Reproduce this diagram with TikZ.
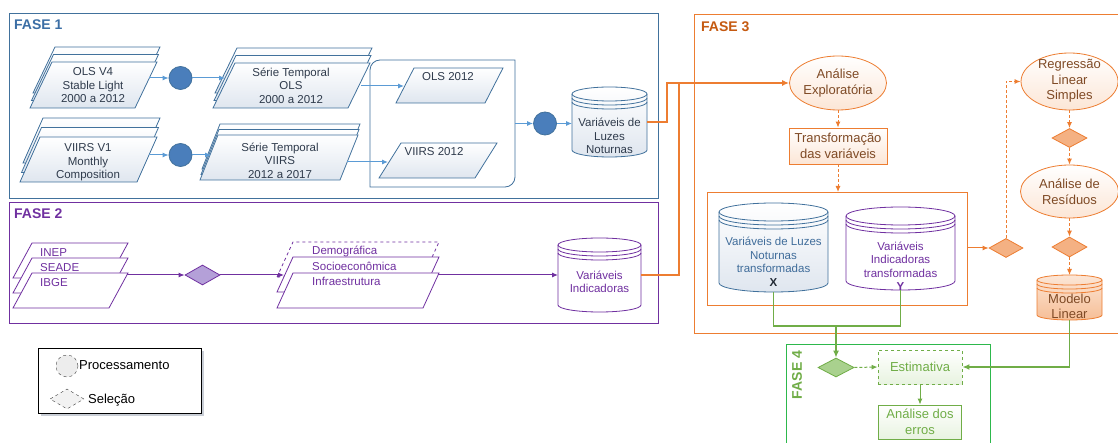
\documentclass[tikz,border=0pt]{standalone}
\usepackage{fontspec}
\setmainfont{Liberation Sans}
\usetikzlibrary{arrows.meta,shapes.geometric}
\definecolor{bl}{HTML}{41719C}
\definecolor{f1c}{HTML}{3B6EA5}
\definecolor{blarrow}{HTML}{5B9BD5}
\definecolor{blfill}{HTML}{4A7EBB}
\definecolor{bltext}{HTML}{2F3B4C}
\definecolor{bldoc}{HTML}{DFE6EF}
\definecolor{bltxt2}{HTML}{3F6C9A}
\definecolor{xdark}{HTML}{222A35}
\definecolor{pu}{HTML}{7030A0}
\definecolor{pufill}{HTML}{B4A0D8}
\definecolor{or}{HTML}{ED7D31}
\definecolor{f3c}{HTML}{C55A11}
\definecolor{ortext}{HTML}{7F4A25}
\definecolor{orlite}{HTML}{FCE6D6}
\definecolor{ordia}{HTML}{F4B183}
\definecolor{ormod}{HTML}{F6BE96}
\definecolor{gr}{HTML}{70AD47}
\definecolor{grbox}{HTML}{2DB84C}
\definecolor{grdia}{HTML}{A9D18E}
\definecolor{grlite}{HTML}{E8F3E0}
\definecolor{shadow}{HTML}{C9CED6}
% parallelogram: style, x bottom-left, y bottom, width, height, slant
\newcommand\pgram[6]{\path[#1] (#2,#3) -- ++(#4,0) -- ++(#6,-#5) -- ++(-#4,0) -- cycle;}
% database cylinder: cx, top, bottom, rx, ry, colour, fill options
\newcommand\dbcyl[7]{%
  \path[draw=#6,line width=0.8pt,#7] (#1-#4,#2+#5) -- (#1-#4,#3-#5)
    arc[start angle=180,end angle=0,x radius=#4,y radius=#5] -- (#1+#4,#2+#5)
    arc[start angle=0,end angle=-180,x radius=#4,y radius=#5] -- cycle;
  \draw[#6,line width=0.8pt] (#1-#4,#2+#5) arc[start angle=180,end angle=0,x radius=#4,y radius=#5];
  \draw[#6,line width=0.8pt] (#1-#4,#2+#5+4) arc[start angle=180,end angle=0,x radius=#4,y radius=#5];
  \draw[#6,line width=0.8pt] (#1-#4,#2+#5+8) arc[start angle=180,end angle=0,x radius=#4,y radius=#5];
}
\tikzset{
  fbox/.style={anchor=north west, inner sep=0, line width=1pt, draw},
  flabel/.style={font=\fontsize{14}{16}\selectfont\bfseries, anchor=west, inner sep=0},
  tA/.style={font=\fontsize{11.5}{13.5}\selectfont, align=center, inner sep=0},
  tB/.style={font=\fontsize{13}{15.5}\selectfont, align=center, inner sep=0},
  pdoc/.style={draw=bl, line width=0.8pt, top color=white, bottom color=bldoc},
  ppur/.style={draw=pu, line width=0.8pt, fill=white},
  hit/.style={inner sep=0, outer sep=0},
  proc/.style={circle, draw=bl, fill=blfill, line width=0.8pt, minimum size=23, inner sep=0},
  arrB/.style={draw=blarrow, line width=1pt, -{Latex[length=6pt,width=5pt]}},
  arrP/.style={draw=pu, line width=1pt, -{Latex[length=6pt,width=5pt]}},
  orS/.style={draw=or, line width=1.5pt},
  orD/.style={draw=or, line width=1pt, dash pattern=on 3pt off 2pt, -{Latex[length=6pt,width=5pt]}},
  grS/.style={draw=gr, line width=1.5pt},
  grD/.style={draw=gr, line width=1pt, dash pattern=on 3pt off 2pt},
  tipL/.style={-{Latex[length=7pt,width=6pt]}},
  oell/.style={ellipse, draw=or, line width=0.8pt, top color=white, bottom color=orlite, inner sep=0},
  obox/.style={rectangle, draw=or, line width=0.8pt, top color=white, bottom color=orlite, inner sep=0},
  odia/.style={diamond, draw=or, fill=ordia, line width=0.8pt, inner sep=0, minimum width=35, minimum height=19},
  gbox/.style={rectangle, draw=gr, line width=0.8pt, top color=white, bottom color=grlite, inner sep=0, text=gr},
}
\begin{document}
\begin{tikzpicture}[x=1pt,y=-1pt]
\useasboundingbox (0,0) rectangle (1118,443);
\fill[white] (0,0) rectangle (1118,443);

%% phase frames
\node[fbox, draw=bl, minimum width=649, minimum height=185] (f1) at (9,13) {};
\node[fbox, draw=pu, minimum width=649, minimum height=121] (f2) at (9,202) {};
\node[fbox, draw=or, minimum width=440, minimum height=319] (f3) at (694,14) {};
\node[fbox, draw=grbox, minimum width=204, minimum height=120] (f4) at (786,344) {};
\node[flabel, text=f1c] (f1l) at (14,25) {FASE 1};
\node[flabel, text=pu] (f2l) at (14,214) {FASE 2};
\node[flabel, text=f3c] (f3l) at (701,26.5) {FASE 3};
\node[flabel, text=gr, rotate=90, anchor=center] (f4l) at (797,375) {FASE 4};

%% ---------------- FASE 1
\pgram{pdoc}{33}{93}{105}{46}{22}
\pgram{pdoc}{31.5}{100.5}{105}{46}{22}
\pgram{pdoc}{30}{108}{105}{46}{22}
\node[tA, text=bltext] (s1) at (93,85.5) {OLS V4\\Stable Light\\2000 a 2012};

\pgram{pdoc}{23}{163}{117}{45}{20}
\pgram{pdoc}{21.5}{172.5}{117}{45}{20}
\pgram{pdoc}{20}{182}{117}{45}{20}
\node[tA, text=bltext] (s2) at (88,162.5) {VIIRS V1\\Monthly\\Composition};

\pgram{pdoc}{215}{93}{135}{45}{22}
\pgram{pdoc}{214}{100.5}{135}{45}{22}
\pgram{pdoc}{213}{108}{135}{45}{22}
\node[tA, text=bltext] (s3) at (291,85.5) {Série Temporal\\OLS\\2000 a 2012};

\pgram{pdoc}{202}{169}{140}{45}{18}
\pgram{pdoc}{201}{174.5}{140}{45}{18}
\pgram{pdoc}{200}{180}{140}{45}{18}
\node[tA, text=bltext] (s4) at (280,160.5) {Série Temporal\\VIIRS\\2012 a 2017};

\draw[bl, line width=0.8pt, fill=white] (370,120) [rounded corners=10pt] -- (370,60) -- (440,60)
  [sharp corners] -- (515,60) -- (515,120) [rounded corners=10pt] -- (515,187) -- (440,187)
  [sharp corners] -- (370,187) -- cycle;
\node[hit, minimum width=145, minimum height=127] (cont) at (442.5,123.5) {};

\pgram{pdoc}{396}{103}{89}{35}{18}
\node[tA, text=bltext] (o12) at (448,77) {OLS 2012};
\pgram{pdoc}{379}{178}{96}{35}{22}
\node[tA, text=bltext] (v12) at (434,152) {VIIRS 2012};

\node[proc] (c1) at (180.5,78) {};
\node[proc] (c2) at (180.5,155) {};
\node[proc] (c3) at (545,123.5) {};

\dbcyl{609.5}{87}{157}{37.5}{7}{bl}{top color=white,bottom color=bldoc}
\node[hit, minimum width=75, minimum height=70] (vln) at (609.5,122) {};
\node[tA, text=bltext] (vlnt) at (609.5,136) {Variáveis de\\Luzes\\Noturnas};

\coordinate (s1e) at (149,78);
\coordinate (s3w) at (225,78);
\coordinate (s2e) at (149,155);
\coordinate (s4w) at (211,155);
\coordinate (s3e) at (361,86);
\coordinate (o12w) at (404,86);
\coordinate (s4e) at (347,162);
\coordinate (v12w) at (388,162);
\draw[arrB] (s1e) -- (c1);
\draw[arrB] (c1) -- (s3w);
\draw[arrB] (s2e) -- (c2);
\draw[arrB] (c2) -- (s4w);
\draw[arrB] (s3e) -- (o12w);
\draw[arrB] (s4e) -- (v12w);
\draw[arrB] (cont.east) -- (c3);
\draw[arrB] (c3) -- (c3 -| vln.west);

%% ---------------- FASE 2
\pgram{ppur}{13}{278}{96}{35}{19}
\pgram{ppur}{13}{293}{96}{35}{19}
\pgram{ppur}{13}{308}{96}{35}{19}
\node[tA, text=pu, anchor=west] (inep) at (40,253) {INEP};
\node[tA, text=pu, anchor=west] (seade) at (40,267.5) {SEADE};
\node[tA, text=pu, anchor=west] (ibge) at (40,282.5) {IBGE};

\node[diamond, draw=pu, fill=pufill, line width=0.8pt, inner sep=0, minimum width=35, minimum height=20] (dp) at (202.5,275) {};

\pgram{ppur, dashed}{277}{277}{146}{35}{16}
\pgram{ppur}{277}{292}{146}{35}{16}
\pgram{ppur}{277}{308}{146}{35}{16}
\node[tA, text=pu, anchor=west] (dem) at (312,251) {Demográfica};
\node[tA, text=pu, anchor=west] (soc) at (312,266) {Socioeconômica};
\node[tA, text=pu, anchor=west] (inf) at (312,281.5) {Infraestrutura};

\dbcyl{599.5}{238}{312}{41.5}{7}{pu}{fill=white}
\node[hit, minimum width=83, minimum height=74] (vi) at (599.5,275) {};
\node[tA, text=pu] (vit) at (599.5,282) {Variáveis\\Indicadoras};

\coordinate (ibgee) at (127,275);
\coordinate (socw) at (284,275);
\coordinate (infe) at (438,275);
\draw[arrP] (ibgee) -- (dp);
\draw[arrP] (dp) -- (socw);
\draw[arrP] (infe) -- (vi.west);

%% ---------------- FASE 3
\node[oell, minimum width=97, minimum height=54] (ae) at (838,83) {};
\node[tB, text=ortext] (aet) at (838,83) {Análise\\Exploratória};
\node[obox, minimum width=98, minimum height=36, text=ortext, tB] (tr) at (838,146) {Transformação\\das variáveis};
\node[fbox, draw=or, line width=0.8pt, fill=white, minimum width=260, minimum height=113] (bigc) at (707,192) {};

\dbcyl{773.5}{203}{292}{54.5}{9}{bl}{top color=white,bottom color=bldoc}
\node[hit, minimum width=109, minimum height=89] (cx) at (773.5,247.5) {};
\node[tA, text=bltxt2] (cxt) at (773.5,262) {Variáveis de Luzes\\Noturnas\\transformadas\\\textbf{\color{xdark}X}};
\dbcyl{900.5}{207}{290}{54.5}{9}{pu}{fill=white}
\node[hit, minimum width=109, minimum height=83] (cy) at (900.5,248.5) {};
\node[tA, text=pu] (cyt) at (900.5,266.5) {Variáveis\\Indicadoras\\transformadas\\\textbf{Y}};

\node[odia, minimum width=34] (d1) at (1006,248) {};
\node[oell, minimum width=97, minimum height=57] (rls) at (1069.5,81.5) {};
\node[tB, text=ortext] (rlst) at (1069.5,81) {Regressão\\Linear\\Simples};
\node[odia] (d2) at (1069.5,138) {};
\node[oell, minimum width=98, minimum height=53] (res) at (1069.5,191.5) {};
\node[tB, text=ortext] (rest) at (1069.5,192) {Análise de\\Resíduos};
\node[odia, minimum height=20] (d3) at (1069.5,247) {};
\dbcyl{1069.5}{275}{320}{32.5}{5}{or}{top color=orlite,bottom color=ormod}
\node[hit, minimum width=65, minimum height=45] (ml) at (1069.5,297.5) {};
\node[tB, text=ortext] (mlt) at (1069.5,306.5) {Modelo\\Linear};

\coordinate (j1) at (667,83);
\coordinate (j2) at (679,83);
\draw[orS, tipL] (vln.east) -| (j1) -- (ae.west);
\draw[orS] (vi.east) -| (j2);
\draw[orD] (ae.south) -- (tr.north);
\draw[orD] (tr.south) -- (tr.south |- bigc.north);
\draw[draw=or, line width=1pt, -{Latex[length=6pt,width=5pt]}] (bigc.east |- d1) -- (d1.west);
\draw[orD] (d1.north) |- (rls.west);
\draw[orD] (rls.south) -- (d2.north);
\draw[orD] (d2.south) -- (res.north);
\draw[orD] (res.south) -- (d3.north);
\draw[orD] (d3.south) -- (ml.north);

%% ---------------- FASE 4
\node[diamond, draw=gr, fill=grdia, line width=0.8pt, inner sep=0, minimum width=36, minimum height=19] (d4) at (836,367.5) {};
\node[gbox, dashed, minimum width=84, minimum height=34, tB] (est) at (920,367) {Estimativa};
\node[gbox, minimum width=83, minimum height=34, tB] (err) at (920,422) {Análise dos\\erros};
\coordinate (jg) at (836,326);
\draw[grS] (cx.south) |- (jg) -| (cy.south);
\draw[grS, tipL] (jg) -- (d4.north);
\draw[grS, tipL] (ml.south) |- (est.east);
\draw[grD, -{Latex[length=6pt,width=5pt]}] (d4.east) -- (est.west);
\draw[draw=gr, line width=1pt, -{Latex[length=6pt,width=5pt]}] (est.south) -- (err.north);

%% ---------------- legend
\fill[shadow] (40.5,350.5) rectangle (203.5,415.5);
\node[fbox, draw=black, fill=white, line width=0.8pt, minimum width=163, minimum height=65] (leg) at (38,348) {};
\node[circle, draw=black!75, dashed, fill=black!7, minimum size=22, inner sep=0] (lc) at (67,366) {};
\node[tB, anchor=west] (lct) at (79,365) {Processamento};
\node[diamond, draw=black!75, dashed, fill=black!5, minimum width=34, minimum height=20, inner sep=0] (ld) at (67,399) {};
\node[tB, anchor=west] (ldt) at (88,400) {Seleção};
\end{tikzpicture}
\end{document}
